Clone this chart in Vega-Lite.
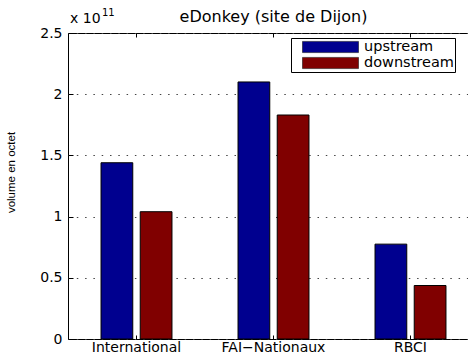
{
  "$schema": "https://vega.github.io/schema/vega-lite/v6.json",
  "autosize": "none",
  "padding": {"left": 68, "top": 33, "right": 0, "bottom": 17},
  "width": 411,
  "height": 306,
  "background": "white",
  "title": {"text": "eDonkey (site de Dijon)", "font": "DejaVu Sans", "fontSize": 16, "fontWeight": "normal", "color": "black", "anchor": "middle", "frame": "group", "baseline": "alphabetic", "offset": -30},
  "config": {
    "view": {"stroke": "black", "strokeWidth": 1},
    "axis": {"domainColor": "black", "tickColor": "black", "labelColor": "black", "labelFont": "DejaVu Sans", "labelFontSize": 14, "titleColor": "black"}
  },
  "data": {"values": [
    {"site": "International", "direction": "upstream", "volume": 144000000000},
    {"site": "International", "direction": "downstream", "volume": 104000000000},
    {"site": "FAI−Nationaux", "direction": "upstream", "volume": 210000000000},
    {"site": "FAI−Nationaux", "direction": "downstream", "volume": 183000000000},
    {"site": "RBCI", "direction": "upstream", "volume": 77500000000},
    {"site": "RBCI", "direction": "downstream", "volume": 43700000000}
  ]},
  "layer": [
    {
      "mark": {"type": "bar", "stroke": "black", "strokeWidth": 1},
      "encoding": {
        "x": {"field": "site", "type": "nominal", "sort": ["International", "FAI−Nationaux", "RBCI"],
          "scale": {"paddingInner": 0.482, "paddingOuter": 0.241},
          "axis": {"orient": "bottom", "title": null, "labelAngle": 0, "tickSize": -4, "labelPadding": 5, "domain": false}},
        "xOffset": {"field": "direction", "type": "nominal", "sort": ["upstream", "downstream"],
          "scale": {"paddingInner": 0.19, "paddingOuter": 0}},
        "y": {"field": "volume", "type": "quantitative",
          "scale": {"domain": [0, 250000000000], "nice": false},
          "axis": {"title": "volume en octet", "titleFont": "Liberation Sans", "titleFontSize": 11.5, "titleFontWeight": "normal",
            "titleX": -57, "titleY": 139, "titleBaseline": "middle",
            "values": [0, 50000000000, 100000000000, 150000000000, 200000000000, 250000000000],
            "labelExpr": "format(datum.value / 1e11, '~g')",
            "tickSize": -5, "labelPadding": 11, "domain": false,
            "grid": true, "gridColor": "#444", "gridDash": [1.5, 6.8], "gridWidth": 1}},
        "color": {"field": "direction", "type": "nominal",
          "scale": {"domain": ["upstream", "downstream"], "range": ["#00008F", "#800000"]},
          "legend": {"title": null, "orient": "none", "legendX": 223, "legendY": 5,
            "symbolType": "M-1,-0.2H1V0.2H-1Z", "symbolSize": 3136, "symbolStrokeColor": "black", "symbolStrokeWidth": 0.5,
            "labelFont": "DejaVu Sans", "labelFontSize": 14.5, "labelColor": "black", "labelOffset": 5,
            "strokeColor": "black", "fillColor": "white", "padding": 1, "symbolOffset": 10, "rowPadding": 0, "clipHeight": 16}}
      }
    },
    {
      "mark": {"type": "rule", "opacity": 0},
      "encoding": {
        "x": {"field": "site", "type": "nominal", "sort": ["International", "FAI−Nationaux", "RBCI"],
          "axis": {"orient": "top", "title": null, "labels": false, "tickSize": -4, "domain": false}}
      }
    },
    {
      "data": {"values": [{"t": "x 10"}]},
      "mark": {"type": "text", "font": "DejaVu Sans", "fontSize": 14, "align": "left", "baseline": "alphabetic", "color": "black"},
      "encoding": {"text": {"field": "t"}, "x": {"value": 2}, "y": {"value": -10}}
    },
    {
      "data": {"values": [{"t": "11"}]},
      "mark": {"type": "text", "font": "DejaVu Sans", "fontSize": 10, "align": "left", "baseline": "alphabetic", "color": "black"},
      "encoding": {"text": {"field": "t"}, "x": {"value": 34}, "y": {"value": -17}}
    }
  ],
  "resolve": {"axis": {"x": "independent"}}
}
